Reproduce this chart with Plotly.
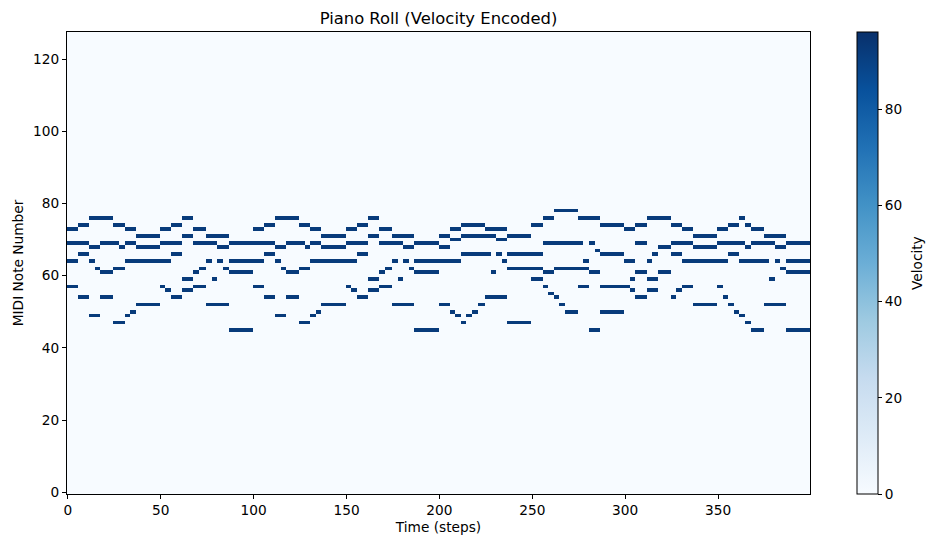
import numpy as np
import plotly.graph_objects as go

# piano roll: each pitch row gets a list of (on, off) steps
N_STEPS = 400
N_PITCHES = 128
note_velocity = 92
velocity_max = 96

pitches = [78, 76, 74, 73, 71, 70, 69, 68, 67, 66, 64, 62, 61, 59, 57, 56, 55, 54, 52, 50, 49, 47, 45]

segments = [
    # 78
    [(262, 275)],
    # 76
    [(12, 25), (62, 68), (112, 125), (162, 168), (256, 262), (275, 287), (312, 325), (362, 365)],
    # 74
    [(6, 12), (25, 31), (56, 62), (106, 112), (125, 131), (156, 162), (212, 225), (250, 256),
     (287, 300), (306, 312), (325, 331), (356, 362), (365, 368)],
    # 73
    [(0, 6), (31, 37), (50, 56), (68, 75), (100, 106), (131, 137), (150, 156), (168, 175),
     (206, 212), (225, 237), (300, 306), (331, 337), (350, 356), (368, 375)],
    # 71
    [(37, 50), (62, 68), (75, 87), (137, 150), (162, 168), (175, 187), (200, 206), (212, 231),
     (237, 250), (337, 350), (375, 387)],
    # 70
    [(206, 212), (231, 237)],
    # 69
    [(0, 12), (18, 28), (31, 37), (50, 62), (68, 81), (87, 100), (100, 112), (118, 128),
     (131, 137), (150, 162), (168, 181), (187, 200), (256, 278), (281, 284), (306, 312),
     (325, 337), (350, 365), (368, 381), (387, 400)],
    # 68
    [(12, 18), (28, 31), (37, 50), (81, 87), (112, 118), (128, 131), (137, 150), (181, 187),
     (200, 206), (318, 325), (337, 350), (365, 368), (381, 387)],
    # 67
    [(284, 287)],
    # 66
    [(6, 12), (56, 62), (106, 112), (156, 162), (212, 228), (231, 234), (237, 256), (287, 300),
     (315, 318), (325, 331), (356, 362)],
    # 64
    [(0, 6), (12, 15), (31, 56), (75, 78), (81, 84), (87, 100), (100, 106), (112, 115),
     (131, 156), (175, 178), (181, 184), (187, 200), (200, 212), (234, 237), (278, 281),
     (300, 306), (312, 315), (331, 356), (362, 378), (381, 384), (387, 400)],
    # 62
    [(15, 18), (25, 31), (71, 75), (84, 87), (115, 118), (125, 131), (171, 175), (184, 187),
     (237, 256), (262, 281), (384, 387)],
    # 61
    [(18, 25), (68, 71), (87, 100), (118, 125), (168, 171), (187, 200), (228, 231), (256, 262),
     (281, 287), (306, 312), (318, 325), (387, 400)],
    # 59
    [(62, 68), (78, 81), (162, 168), (178, 181), (250, 256), (303, 306), (312, 318), (378, 381)],
    # 57
    [(0, 6), (50, 53), (68, 75), (100, 106), (150, 153), (168, 175), (256, 259), (275, 281),
     (287, 303), (331, 337), (350, 353)],
    # 56
    [(53, 56), (62, 68), (153, 156), (162, 168), (303, 306), (312, 318), (328, 331)],
    # 55
    [(259, 262)],
    # 54
    [(6, 12), (18, 25), (56, 62), (106, 112), (118, 125), (156, 162), (225, 237), (262, 265),
     (306, 312), (325, 328), (353, 356)],
    # 52
    [(37, 50), (75, 87), (137, 150), (175, 187), (200, 206), (221, 225), (265, 268), (337, 350),
     (356, 359), (375, 387)],
    # 50
    [(34, 37), (134, 137), (206, 209), (218, 221), (268, 275), (287, 300), (359, 362)],
    # 49
    [(12, 18), (31, 34), (112, 118), (131, 134), (209, 212), (215, 218), (362, 365)],
    # 47
    [(25, 31), (125, 131), (212, 215), (237, 250), (365, 368)],
    # 45
    [(87, 100), (187, 200), (281, 287), (368, 375), (387, 400)],
]

x_ticks = [0, 50, 100, 150, 200, 250, 300, 350]
y_ticks = [0, 20, 40, 60, 80, 100, 120]
cbar_ticks = [0, 20, 40, 60, 80]

# matplotlib "Blues"
blues = [
    [0.0, '#f7fbff'], [0.125, '#deebf7'], [0.25, '#c6dbef'], [0.375, '#9ecae1'],
    [0.5, '#6baed6'], [0.625, '#4292c6'], [0.75, '#2171b5'], [0.875, '#08519c'],
    [1.0, '#08306b'],
]

roll = np.zeros((N_PITCHES, N_STEPS))
for pitch, segs in zip(pitches, segments):
    for on, off in segs:
        roll[pitch, on:off] = note_velocity

FONT = 'DejaVu Sans'
small = dict(family=FONT, size=13.7, color='black')

# page has an 8px body margin, so the figure is 16px smaller than the window
W, H = 920, 531

fig = go.Figure(go.Heatmap(
    z=roll,
    x=np.arange(N_STEPS),
    y=np.arange(N_PITCHES),
    colorscale=blues,
    zmin=0,
    zmax=velocity_max,
    zsmooth=False,
    colorbar=dict(
        x=1.0633, xanchor='left', xpad=0,
        y=0.5, yanchor='middle', ypad=0,
        len=1, lenmode='fraction',
        thickness=21, thicknessmode='pixels',
        outlinewidth=1, outlinecolor='black',
        ticks='outside', ticklen=4, tickcolor='black',
        tickvals=cbar_ticks,
        tickfont=small,
    ),
))

axis_style = dict(
    showgrid=False, zeroline=False, automargin=False,
    showline=True, mirror=True, linecolor='black', linewidth=1,
    ticks='outside', ticklen=4, tickcolor='black',
    tickfont=small,
)

fig.update_layout(
    width=W, height=H,
    margin=dict(l=59, r=118, t=24, b=45, autoexpand=False),
    paper_bgcolor='white', plot_bgcolor='white',
    font=small,
    title=dict(text='Piano Roll (Velocity Encoded)', x=0.5, xref='paper', xanchor='center',
               y=1 - 10 / H, yref='container', yanchor='middle',
               font=dict(family=FONT, size=16.4, color='black')),
    xaxis=dict(range=[-0.5, N_STEPS - 0.5], tickvals=x_ticks,
               title=dict(text='Time (steps)', standoff=4, font=small), **axis_style),
    yaxis=dict(range=[-0.5, N_PITCHES - 0.5], tickvals=y_ticks,
               title=dict(text='MIDI Note Number', standoff=6, font=small), **axis_style),
    annotations=[dict(text='Velocity', textangle=-90, x=1.144, y=0.5,
                      xref='paper', yref='paper', xanchor='center', yanchor='middle',
                      showarrow=False, font=small)],
)

fig.write_html('out.html')
